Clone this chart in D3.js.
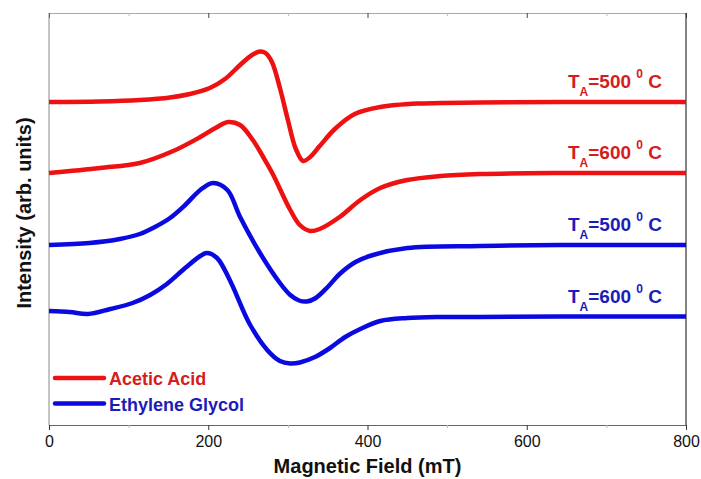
<!DOCTYPE html>
<html>
<head>
<meta charset="utf-8">
<script src="https://cdn.jsdelivr.net/npm/d3@7"></script>
<style>
  body { margin: 0; background: #fff; }
  text { font-family: "Liberation Sans", Arial, sans-serif; }
</style>
</head>
<body>
<div id="chart"></div>
<script>
// EPR spectra (field in mT, intensity in arb. units, offset per trace)
const fieldAA500 = [0, 64, 114, 152, 177, 202, 221, 240, 255, 265, 272, 280, 290, 300, 310, 319, 328, 340, 359, 384, 416, 466, 541, 642, 800];
const intAA500   = [323, 323.5, 325, 327.5, 331, 337, 346, 360, 370, 373.5, 372, 363, 337, 305, 276, 264, 268, 279, 296, 311, 318, 321.5, 322.5, 323, 323];

const fieldAA600 = [0, 64, 114, 156, 190, 209, 225, 240, 256, 269, 281, 303, 315, 328, 340, 365, 391, 416, 450, 491, 541, 642, 800];
const intAA600   = [252, 257, 262, 274, 288, 297, 303, 300, 285, 268, 251, 215, 200, 194, 196, 208, 225, 237, 245, 249, 251, 252, 252];

const fieldEG500 = [0, 51, 89, 114, 133, 152, 171, 190, 206, 224, 240, 265, 290, 303, 314, 324, 335, 350, 365, 385, 407, 450, 541, 642, 800];
const intEG500   = [180, 182, 186, 191, 198, 207, 220, 235, 242, 235, 208, 172, 142, 130, 124.5, 123.5, 127, 138, 151, 163, 170, 177, 179, 180, 180];

const fieldEG600 = [0, 26, 49, 77, 105, 127, 148, 171, 190, 198, 211, 227, 252, 274, 290, 303, 315, 334, 353, 372, 391, 416, 450, 491, 541, 642, 800];
const intEG600   = [114, 113, 111, 116, 122, 130, 141, 157, 169, 172, 167, 145, 101, 75, 64, 61.5, 62.5, 68, 77, 88, 96, 104, 107, 108, 108, 108.5, 108.5];

const traceLabels = ["500", "600", "500", "600"];
const legendNames = ["Acetic Acid", "Ethylene Glycol"];
const majorTicks = [0, 200, 400, 600, 800];
const minorTicks = [100, 300, 500, 700];

const red = "#ee1111", redText = "#d61c1c";
const blue = "#0a0ae0", blueText = "#1c1cb8";

const W = 701, H = 479;
const x = d3.scaleLinear().domain([0, 800]).range([49, 686]);
const y = d3.scaleLinear().domain([0, 412]).range([425, 13]);

const svg = d3.select("#chart").append("svg")
    .attr("width", W)
    .attr("height", H);

const traces = [
    {f: fieldAA500, v: intAA500, color: red, textColor: redText, label: traceLabels[0]},
    {f: fieldAA600, v: intAA600, color: red, textColor: redText, label: traceLabels[1]},
    {f: fieldEG500, v: intEG500, color: blue, textColor: blueText, label: traceLabels[2]},
    {f: fieldEG600, v: intEG600, color: blue, textColor: blueText, label: traceLabels[3]}
];

const line = d3.line()
    .x(d => x(d[0]))
    .y(d => y(d[1]))
    .curve(d3.curveCatmullRom.alpha(0.5));

// axes
const gBottom = svg.append("g").attr("transform", `translate(0,${y(0)})`)
    .call(d3.axisBottom(x).tickValues(majorTicks).tickSize(5).tickPadding(6));
gBottom.select(".domain").attr("stroke", "#666");
gBottom.selectAll(".tick line").attr("stroke", "#333");
gBottom.selectAll(".tick text").attr("font-size", 16).attr("fill", "#111")
    .attr("font-family", "Liberation Sans, Arial, sans-serif");

svg.append("g").attr("transform", `translate(0,${y(0)})`)
    .call(d3.axisBottom(x).tickValues(minorTicks).tickSize(3).tickFormat(""))
    .call(g => g.select(".domain").remove())
    .selectAll(".tick line").attr("stroke", "#bbb");

const gTop = svg.append("g").attr("transform", `translate(0,${y(412)})`)
    .call(d3.axisTop(x).tickValues(majorTicks).tickSize(-5).tickFormat(""));
gTop.select(".domain").attr("stroke", "#aaa");
gTop.selectAll(".tick line").attr("stroke", "#444");

svg.append("g").attr("transform", `translate(0,${y(412)})`)
    .call(d3.axisTop(x).tickValues(minorTicks).tickSize(-3).tickFormat(""))
    .call(g => g.select(".domain").remove())
    .selectAll(".tick line").attr("stroke", "#bbb");

svg.append("line")
    .attr("x1", x(0)).attr("x2", x(0))
    .attr("y1", y(0)).attr("y2", y(412))
    .attr("stroke", "#888");

svg.append("line")
    .attr("x1", x(800)).attr("x2", x(800))
    .attr("y1", y(0)).attr("y2", y(412))
    .attr("stroke", "#333").attr("stroke-width", 1.2);

// traces
svg.selectAll(".trace")
    .data(traces)
    .join("path")
    .attr("class", "trace")
    .attr("fill", "none")
    .attr("stroke", d => d.color)
    .attr("stroke-width", 4.5)
    .attr("stroke-linejoin", "round")
    .attr("d", d => line(d.f.map((f, i) => [f, d.v[i]])));

// T_A labels
const lab = svg.selectAll(".tlabel")
    .data(traces)
    .join("text")
    .attr("class", "tlabel")
    .attr("x", 662)
    .attr("y", d => y(d.v[d.v.length - 1]) - 14)
    .attr("text-anchor", "end")
    .attr("font-weight", "bold")
    .attr("font-size", 19)
    .attr("fill", d => d.textColor);
lab.append("tspan").text("T");
lab.append("tspan").attr("dy", 8).attr("font-size", 12).text("A");
lab.append("tspan").attr("dy", -8).text(d => "=" + d.label + " ");
lab.append("tspan").attr("dy", -10).attr("font-size", 12).text("0");
lab.append("tspan").attr("dy", 10).text(" C");

// legend
const legend = svg.selectAll(".legend")
    .data(legendNames)
    .join("g")
    .attr("class", "legend")
    .attr("transform", (d, i) => `translate(55,${378 + i * 25.5})`);
legend.append("line")
    .attr("x1", 0).attr("x2", 49)
    .attr("stroke", (d, i) => i === 0 ? red : blue)
    .attr("stroke-width", 4.5)
    .attr("stroke-linecap", "round");
legend.append("text")
    .attr("x", 54).attr("y", 7)
    .attr("font-weight", "bold")
    .attr("font-size", 18)
    .attr("fill", (d, i) => i === 0 ? redText : blueText)
    .text(d => d);

// axis titles
svg.append("text")
    .attr("x", (x(0) + x(800)) / 2)
    .attr("y", 473)
    .attr("text-anchor", "middle")
    .attr("font-weight", "bold")
    .attr("font-size", 20)
    .attr("fill", "#111")
    .text("Magnetic Field (mT)");

svg.append("text")
    .attr("transform", "translate(31,213) rotate(-90)")
    .attr("text-anchor", "middle")
    .attr("font-weight", "bold")
    .attr("font-size", 20)
    .attr("fill", "#111")
    .text("Intensity (arb. units)");
</script>
</body>
</html>
